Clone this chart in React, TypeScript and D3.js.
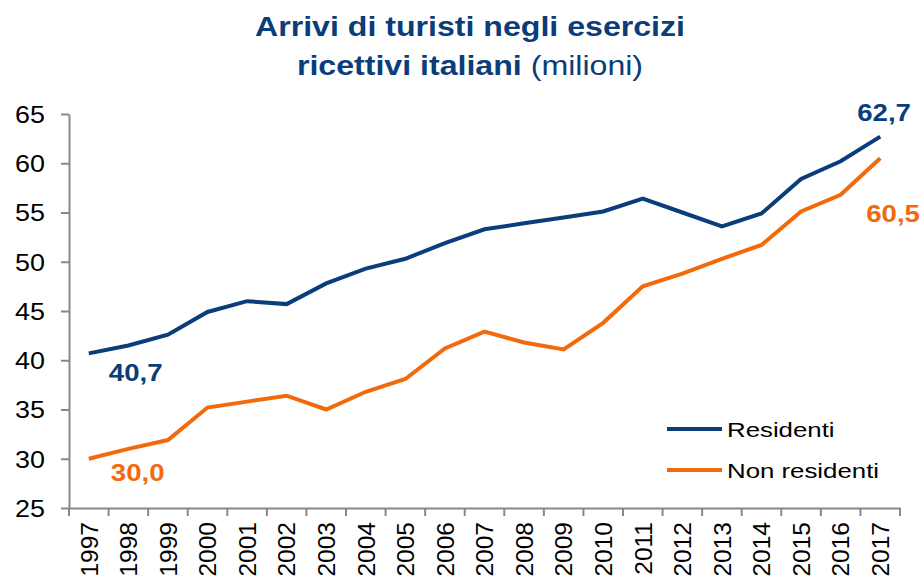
import { useEffect, useRef } from "react";
import * as d3 from "d3";

const years = d3.range(1997, 2018).map(String);
const residenti = [40.7, 41.5, 42.6, 44.9, 46.0, 45.7, 47.8, 49.3, 50.3, 51.9, 53.3, 53.9, 54.5, 55.1, 56.4, 55.0, 53.6, 54.9, 58.4, 60.2, 62.7];
const nonResidenti = [30.0, 31.0, 31.9, 35.2, 35.8, 36.4, 35.0, 36.8, 38.1, 41.2, 42.9, 41.8, 41.1, 43.8, 47.5, 48.8, 50.3, 51.7, 55.1, 56.8, 60.5];
const yTicks = [25, 30, 35, 40, 45, 50, 55, 60, 65];

const BLUE = "#0a3d7a";
const ORANGE = "#f26a0c";
const FONT = "'Liberation Sans', Arial, sans-serif";
// the reference text looks wider than plain Arial, so stretch it a bit
const SX = 1.17;

const App = () => {
  const svgRef = useRef<SVGSVGElement>(null);
  const width = 920;
  const height = 581;
  const margin = { top: 114, right: 20, bottom: 73, left: 69 };

  useEffect(() => {
    const svg = d3.select(svgRef.current);
    svg.selectAll("*").remove();

    const x = d3.scaleBand()
      .domain(years)
      .range([margin.left, width - margin.right])
      .padding(0);

    const y = d3.scaleLinear()
      .domain([25, 65])
      .range([height - margin.bottom, margin.top]);

    const cx = (i: number) => (x(years[i]) as number) + x.bandwidth() / 2;

    // title
    const title = svg.append("g")
      .attr("transform", `translate(470,0) scale(1.19,1)`)
      .append("text")
      .attr("text-anchor", "middle")
      .attr("font-family", FONT)
      .attr("font-size", 27)
      .attr("fill", BLUE);
    title.append("tspan")
      .attr("x", 0).attr("y", 36)
      .attr("font-weight", "bold")
      .text("Arrivi di turisti negli esercizi");
    const l2 = title.append("tspan").attr("x", 0).attr("y", 75);
    l2.append("tspan").attr("font-weight", "bold").text("ricettivi italiani");
    l2.append("tspan").text(" (milioni)");

    // y axis
    const yAxis = svg.append("g")
      .attr("transform", `translate(${margin.left},0)`)
      .call(d3.axisLeft(y).tickValues(yTicks).tickSize(8).tickSizeOuter(0));
    yAxis.select(".domain").attr("stroke", "#888").attr("stroke-width", 2);
    yAxis.selectAll(".tick line").attr("stroke", "#888").attr("stroke-width", 2);
    yAxis.selectAll(".tick text")
      .attr("font-family", FONT)
      .attr("font-size", 23)
      .attr("fill", "#000")
      .attr("x", -24 / SX)
      .attr("dy", "0.36em")
      .attr("transform", `scale(${SX},1)`);

    // x axis
    const xAxis = svg.append("g")
      .attr("transform", `translate(0,${height - margin.bottom})`)
      .call(d3.axisBottom(x).tickSize(0).tickSizeOuter(0));
    xAxis.select(".domain").attr("stroke", "#888").attr("stroke-width", 2);
    xAxis.selectAll(".tick text")
      .attr("font-family", FONT)
      .attr("font-size", 24.5)
      .attr("fill", "#000")
      .attr("text-anchor", "end")
      .attr("transform", "rotate(-90)")
      .attr("x", -14)
      .attr("y", 0)
      .attr("dy", "0.36em");

    // x tick separators
    svg.append("g")
      .selectAll("line")
      .data(d3.range(years.length + 1))
      .join("line")
      .attr("x1", i => margin.left + i * x.bandwidth())
      .attr("x2", i => margin.left + i * x.bandwidth())
      .attr("y1", height - margin.bottom)
      .attr("y2", height - margin.bottom + 8)
      .attr("stroke", "#888")
      .attr("stroke-width", 2);

    const line = d3.line<number>()
      .x((_, i) => cx(i))
      .y(d => y(d));

    svg.append("path")
      .datum(nonResidenti)
      .attr("fill", "none")
      .attr("stroke", ORANGE)
      .attr("stroke-width", 4)
      .attr("d", line);

    svg.append("path")
      .datum(residenti)
      .attr("fill", "none")
      .attr("stroke", BLUE)
      .attr("stroke-width", 4)
      .attr("d", line);

    // value labels
    const fmt = (v: number) => v.toFixed(1).replace(".", ",");
    const last = years.length - 1;
    const labels = [
      { v: residenti[0], x: cx(0) + 20, y: y(residenti[0]) + 28, c: BLUE },
      { v: nonResidenti[0], x: cx(0) + 22, y: y(nonResidenti[0]) + 22, c: ORANGE },
      { v: residenti[last], x: cx(last) - 23, y: y(residenti[last]) - 16, c: BLUE },
      { v: nonResidenti[last], x: cx(last) - 14, y: y(nonResidenti[last]) + 64, c: ORANGE },
    ];
    svg.append("g")
      .selectAll("text")
      .data(labels)
      .join("text")
      .attr("transform", d => `translate(${d.x},${d.y}) scale(1.2,1)`)
      .attr("font-family", FONT)
      .attr("font-size", 23)
      .attr("font-weight", "bold")
      .attr("fill", d => d.c)
      .text(d => fmt(d.v));

    // legend
    const legend = [
      { name: "Residenti", color: BLUE },
      { name: "Non residenti", color: ORANGE },
    ];
    const lg = svg.append("g")
      .selectAll("g")
      .data(legend)
      .join("g")
      .attr("transform", (_, i) => `translate(667,${429 + i * 41})`);
    lg.append("line")
      .attr("x1", 0).attr("x2", 55)
      .attr("stroke", d => d.color)
      .attr("stroke-width", 4);
    lg.append("text")
      .attr("transform", `translate(60,8) scale(1.23,1)`)
      .attr("font-family", FONT)
      .attr("font-size", 21)
      .attr("fill", "#000")
      .text(d => d.name);
  }, []);

  return (
    <svg ref={svgRef} width={width} height={height} style={{ position: "absolute", left: 0, top: 0 }}></svg>
  );
};

export default App;
